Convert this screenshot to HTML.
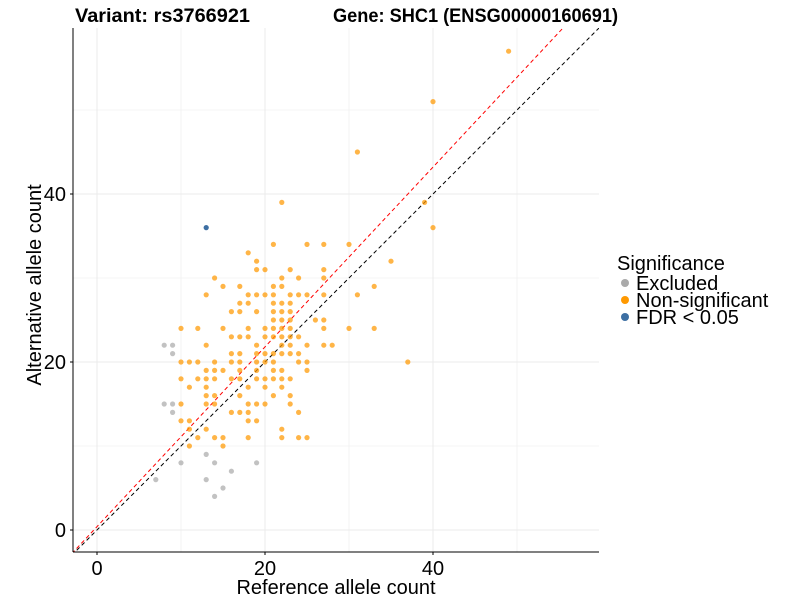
<!DOCTYPE html>
<html><head><meta charset="utf-8"><style>
body{margin:0;background:#fff;font-family:"Liberation Sans",sans-serif}
svg{display:block}
</style></head><body>
<svg id="chart" width="800" height="600" xmlns="http://www.w3.org/2000/svg">
<g id="grid"></g>
<g id="lines"></g>
<g id="pts"></g>
<g id="axes"></g>
<text x="75" y="22" font-size="19" font-weight="bold" textLength="175" lengthAdjust="spacingAndGlyphs">Variant: rs3766921</text>
<text x="333" y="22" font-size="19" font-weight="bold" textLength="285" lengthAdjust="spacingAndGlyphs">Gene: SHC1 (ENSG00000160691)</text>
<text x="336" y="594" font-size="20" text-anchor="middle">Reference allele count</text>
<text transform="translate(41,285) rotate(-90)" font-size="20" text-anchor="middle">Alternative allele count</text>
<g>
<text x="617" y="270" font-size="20">Significance</text>
<circle cx="625" cy="283" r="4" fill="#aaaaaa"/>
<text x="636" y="290" font-size="20">Excluded</text>
<circle cx="625" cy="300" r="4" fill="#ff9900"/>
<text x="636" y="307" font-size="20">Non-significant</text>
<circle cx="625" cy="317" r="4" fill="#3d6fa3"/>
<text x="636" y="324" font-size="20">FDR &lt; 0.05</text>
</g>
</svg>
<script>
const refCounts=[8,9,9,8,9,9,10,14,19,16,7,13,15,14,13,
18,19,19,14,15,17,13,18,19,17,18,16,17,19,10,12,15,18,16,17,18,13,19,16,17,19,10,11,12,14,16,17,19,13,14,15,17,19,10,12,13,14,16,17,19,11,13,18,13,14,17,10,13,14,18,19,16,17,18,10,11,18,19,11,13,12,14,15,18,11,15,
22,21,25,27,30,35,20,23,27,22,24,27,21,22,33,20,21,23,24,25,27,31,21,22,23,21,22,23,21,22,23,26,27,20,21,22,23,27,30,33,20,21,22,23,24,22,23,25,27,28,20,21,22,23,24,20,21,24,25,37,21,22,25,20,21,22,23,20,22,21,23,20,23,24,22,22,24,25,49,40,31,39,40,
13];
const altCounts=[22,22,21,15,15,14,8,8,8,7,6,6,5,4,9,
33,32,31,30,29,29,28,28,28,27,27,26,26,26,24,24,24,24,23,23,23,22,22,21,21,21,20,20,20,20,20,20,20,19,19,19,19,19,18,18,18,18,18,18,18,17,17,17,16,16,16,15,15,15,15,15,14,14,14,13,13,13,13,12,12,11,11,11,11,10,10,
39,34,34,34,34,32,31,31,31,30,30,30,29,29,29,28,28,28,28,28,28,28,27,27,27,26,26,26,25,25,25,25,25,24,24,24,24,24,24,24,23,23,23,23,23,22,22,22,22,22,21,21,21,21,21,20,20,20,20,20,19,19,19,18,18,18,18,17,17,16,16,15,15,14,12,11,11,11,57,51,45,39,36,
36];
const groups=["Excluded","Non-significant","FDR"];
const excludedCount=15, fdrCount=1;
const xTicks=[0,20,40], yTicks=[0,20,40];
const ns="http://www.w3.org/2000/svg";
const L=73,R=599,T=28,B=552;
const xs=v=>97+v*8.4, ys=v=>530-v*8.4;
function mk(p,tag,at){const e=document.createElementNS(ns,tag);for(const k in at)e.setAttribute(k,at[k]);p.appendChild(e);return e;}
const grid=document.getElementById('grid');
mk(grid,'rect',{x:L,y:T,width:R-L,height:B-T,fill:'#fff'});
for(let v=0;v<=50;v+=10){
 const gv=mk(grid,'line',{x1:xs(v),x2:xs(v),y1:T,y2:B,stroke:'#ebebeb','stroke-width':v%20==0?1:0.6});
 
 
 const gh=mk(grid,'line',{x1:L,x2:R,y1:ys(v),y2:ys(v),stroke:'#ebebeb','stroke-width':v%20==0?1:0.6});
 
 
}
const lines=document.getElementById('lines');
const cp=mk(document.getElementById('chart'),'clipPath',{id:'cl'});mk(cp,'rect',{x:L,y:T,width:R-L,height:B-T});
lines.setAttribute('clip-path','url(#cl)');
const slope=1.07, icpt=0.4;
const red=mk(lines,'line',{x1:xs(-3),y1:ys(-3*slope+icpt),x2:xs(60),y2:ys(60*slope+icpt),stroke:'#ff0000','stroke-width':1,'stroke-dasharray':'4,3'});


const blk=mk(lines,'line',{x1:xs(-3),y1:ys(-3),x2:xs(62),y2:ys(62),stroke:'#000','stroke-width':1,'stroke-dasharray':'4,3'});


const pts=document.getElementById('pts');
const cols={"Excluded":"#aaaaaa","Non-significant":"#ff9900","FDR":"#3d6fa3"};
const n=refCounts.length;
for(let i=0;i<n;i++){
 const g=i<excludedCount?groups[0]:(i>=n-fdrCount?groups[2]:groups[1]);
 const c=mk(pts,'circle',{cx:xs(refCounts[i]),cy:ys(altCounts[i]),r:2.6,fill:cols[g],'fill-opacity':g==="FDR"?1:0.72});
 
 
}
const ax=document.getElementById('axes');
mk(ax,'line',{x1:L,x2:L,y1:T,y2:B,stroke:'#000','stroke-width':1});
mk(ax,'line',{x1:L,x2:R,y1:B,y2:B,stroke:'#000','stroke-width':1});
xTicks.forEach(v=>{
 const t=mk(ax,'text',{x:xs(v),y:575,'font-size':20,'text-anchor':'middle',fill:'#000'});t.textContent=v;
 
 
 mk(ax,'line',{x1:xs(v),x2:xs(v),y1:B,y2:B+3,stroke:'#000'});
});
yTicks.forEach(v=>{
 const t=mk(ax,'text',{x:66,y:ys(v)+7,'font-size':20,'text-anchor':'end',fill:'#000'});t.textContent=v;
 
 
 mk(ax,'line',{x1:L-3,x2:L,y1:ys(v),y2:ys(v),stroke:'#000'});
});
</script>
</body></html>
